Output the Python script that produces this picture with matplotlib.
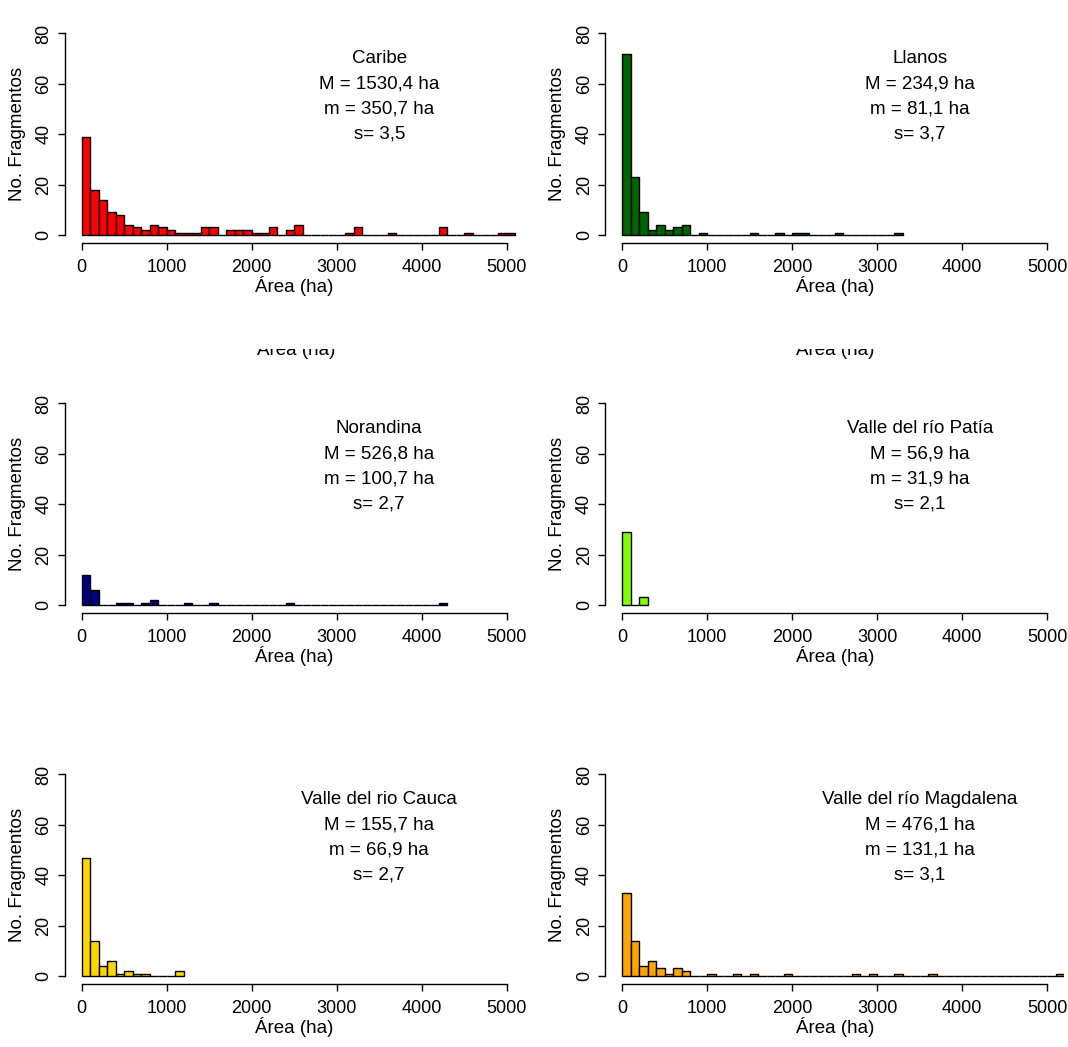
import matplotlib.pyplot as plt
from matplotlib.transforms import Bbox, TransformedBbox

plt.rcParams['font.family'] = ['Liberation Sans', 'DejaVu Sans']

# Histogram counts per 100 ha bin, starting at 0 ha
bin_width = 100

caribe_counts = [39, 18, 14, 9, 8, 4, 3, 2, 4, 3, 2, 1, 1, 1, 3, 3, 0, 2, 2, 2, 1, 1, 3, 0, 2, 4,
                 0, 0, 0, 0, 0, 1, 3, 0, 0, 0, 1, 0, 0, 0, 0, 0, 3, 0, 0, 1, 0, 0, 0, 1, 1]
llanos_counts = [72, 23, 9, 2, 4, 2, 3, 4, 0, 1, 0, 0, 0, 0, 0, 1, 0, 0, 1, 0, 1, 1,
                 0, 0, 0, 1, 0, 0, 0, 0, 0, 0, 1]
norandina_counts = [12, 6, 0, 0, 1, 1, 0, 1, 2, 0, 0, 0, 1, 0, 0, 1, 0, 0, 0, 0, 0, 0, 0, 0, 1,
                    0, 0, 0, 0, 0, 0, 0, 0, 0, 0, 0, 0, 0, 0, 0, 0, 0, 1]
patia_counts = [29, 0, 3]
cauca_counts = [47, 14, 4, 6, 1, 2, 1, 1, 0, 0, 0, 2]
magdalena_counts = [33, 14, 4, 6, 3, 1, 3, 2, 0, 0, 1, 0, 0, 1, 0, 1, 0, 0, 0, 1, 0, 0, 0, 0, 0, 0,
                    0, 1, 0, 1, 0, 0, 1, 0, 0, 0, 1, 0, 0, 0, 0, 0, 0, 0, 0, 0, 0, 0, 0, 0, 0, 1]

regions = ["Caribe", "Llanos", "Norandina", "Valle del río Patía",
           "Valle del rio Cauca", "Valle del río Magdalena"]
mean_area = ["1530,4", "234,9", "526,8", "56,9", "155,7", "476,1"]
median_area = ["350,7", "81,1", "100,7", "31,9", "66,9", "131,1"]
s_values = ["3,5", "3,7", "2,7", "2,1", "2,7", "3,1"]
colors = ["red", "darkgreen", "navy", "chartreuse", "gold", "orange"]
all_counts = [caribe_counts, llanos_counts, norandina_counts,
              patia_counts, cauca_counts, magdalena_counts]

W, H = 1068, 1047
fig = plt.figure(figsize=(W / 100, H / 100), dpi=100)

col_left = [64.7, 605.3]
row_bottom = [243.1, 613.1, 984.1]
ax_w = 459
ax_h = 217.7

for i in range(6):
    r, c = divmod(i, 2)
    ax = fig.add_axes([col_left[c] / W, (H - row_bottom[r]) / H, ax_w / W, ax_h / H])
    counts = all_counts[i]
    lefts = [k * bin_width for k in range(len(counts))]
    ax.bar(lefts, counts, width=bin_width, align='edge', color=colors[i],
           edgecolor='black', linewidth=1.0)
    ax.set_xlim(-200, 5200)
    ax.set_ylim(-3.2, 83.2)
    for side in ['top', 'right']:
        ax.spines[side].set_visible(False)
    ax.spines['left'].set_bounds(0, 80)
    ax.spines['bottom'].set_bounds(0, 5000)
    ax.spines['left'].set_linewidth(1.0)
    ax.spines['bottom'].set_linewidth(1.0)
    ax.set_xticks([0, 1000, 2000, 3000, 4000, 5000])
    ax.set_yticks([0, 20, 40, 60, 80])
    ax.tick_params(axis='x', length=5, width=1.0, pad=6.5, labelsize=13)
    ax.tick_params(axis='y', length=5, width=1.0, pad=4, labelsize=13, labelrotation=90)
    for lab in ax.get_yticklabels():
        lab.set_va('center')
    ax.text(0.5, -43 / ax_h, "Área (ha)", transform=ax.transAxes,
            ha='center', va='center', fontsize=13.5)
    ax.text(-(col_left[c] - (18 if c == 0 else 558)) / ax_w, 0.5, "No. Fragmentos",
            transform=ax.transAxes, rotation=90, ha='center', va='center', fontsize=13.5)
    lines = [regions[i], f"M = {mean_area[i]} ha", f"m = {median_area[i]} ha", f"s= {s_values[i]}"]
    for j, line in enumerate(lines):
        ax.text(3500, 70 - 10 * j, line, ha='center', va='center', fontsize=13.5)

# partly hidden axis titles left over between the first two rows
clip = TransformedBbox(Bbox([[0, 0], [1, (H - 348.5) / H]]), fig.transFigure)
for xc in [296, 835]:
    t = fig.text(xc / W, (H - 355) / H, "Área (ha)", ha='center', va='baseline', fontsize=13.5)
    t.set_clip_box(clip)
    t.set_clip_on(True)

fig.savefig('out.png', dpi=100)
